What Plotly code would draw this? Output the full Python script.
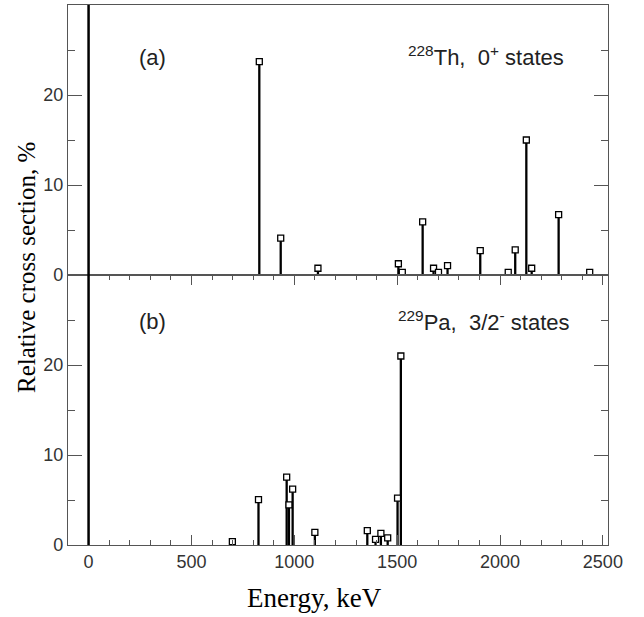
import plotly.graph_objects as go
from plotly.subplots import make_subplots

# ---- data ----
th_energy = [830, 934, 1115, 1506, 1525, 1624, 1677, 1701, 1745, 1904, 2040, 2074, 2128, 2154, 2285, 2436]
th_cs = [23.7, 4.1, 0.75, 1.25, 0.3, 5.9, 0.75, 0.3, 1.05, 2.7, 0.3, 2.8, 15.0, 0.75, 6.7, 0.3]

pa_energy = [699, 826, 963, 974, 992, 1100, 1355, 1395, 1421, 1454, 1502, 1518]
pa_cs = [0.37, 5.05, 7.55, 4.45, 6.2, 1.4, 1.6, 0.63, 1.3, 0.8, 5.2, 21.0]

x_ticks = [0, 500, 1000, 1500, 2000, 2500]
y_ticks = [0, 10, 20]
y_minor = [5, 15, 25]

W, H = 644, 617
L, R, T, B = 68, 36, 5, 72

fig = make_subplots(rows=2, cols=1, shared_xaxes=False, vertical_spacing=0)


def stems(xs, ys):
    sx, sy = [], []
    for x, y in zip(xs, ys):
        sx += [x, x, None]
        sy += [0, y, None]
    return sx, sy


for row, (xs, ys) in enumerate([(th_energy, th_cs), (pa_energy, pa_cs)], start=1):
    sx, sy = stems(xs, ys)
    fig.add_trace(go.Scatter(x=sx, y=sy, mode="lines",
                             line=dict(color="black", width=2.3),
                             showlegend=False, hoverinfo="skip"), row=row, col=1)
    fig.add_trace(go.Scatter(x=xs, y=ys, mode="markers",
                             marker=dict(symbol="square", size=6, color="white",
                                         line=dict(color="black", width=1.3)),
                             showlegend=False), row=row, col=1)
    fig.add_vline(x=0, line=dict(color="black", width=2.5), row=row, col=1)

frame = dict(showline=True, linecolor="#555", linewidth=1.3,
             showgrid=False, zeroline=False)
tickfont = dict(family="Liberation Sans, Arial", size=18, color="#333")

fig.update_xaxes(range=[-100, 2525], **frame)
fig.update_xaxes(showticklabels=False, ticks="", mirror=True, row=1, col=1)
fig.update_xaxes(ticks="inside", tickvals=x_ticks, ticklen=10, tickwidth=1.3,
                 tickcolor="#555", mirror="ticks", tickfont=tickfont,
                 minor=dict(ticks="inside", dtick=100, tick0=0, ticklen=5,
                            tickwidth=1.2, tickcolor="#555"),
                 row=2, col=1)
fig.update_yaxes(range=[0, 30], tickvals=y_ticks, ticks="inside", ticklen=14,
                 tickwidth=1.3, tickcolor="#555", mirror="ticks", tickfont=tickfont,
                 minor=dict(ticks="inside", tickvals=y_minor, ticklen=7,
                            tickwidth=1.2, tickcolor="#555"),
                 **frame)
fig.update_yaxes(domain=[0.5, 1.0], row=1, col=1)
fig.update_yaxes(domain=[0.0, 0.5], row=2, col=1)


def px(x):
    return (x - L) / (W - L - R)


def py(y):
    return (H - B - y) / (H - T - B)


lab = dict(family="Liberation Sans, Arial", size=22, color="#222")
ann = [
    dict(text="(a)", x=px(137), y=py(57.5), xanchor="left", yanchor="middle", font=lab),
    dict(text="(b)", x=px(137), y=py(321), xanchor="left", yanchor="middle", font=lab),
    dict(text="<sup>228</sup>Th,  0<sup>+</sup> states", x=px(566), y=py(56),
         xanchor="right", yanchor="middle", font=lab),
    dict(text="<sup>229</sup>Pa,  3/2<sup>-</sup> states", x=px(571), y=py(321),
         xanchor="right", yanchor="middle", font=lab),
    dict(text="Energy, keV", x=px(314), y=py(598), xanchor="center", yanchor="middle",
         font=dict(family="Liberation Serif, Times New Roman", size=27, color="black")),
    dict(text="Relative cross section, %", x=px(26.5), y=py(267.5), xanchor="center",
         yanchor="middle", textangle=-90,
         font=dict(family="Liberation Serif, Times New Roman", size=25, color="black")),
]
for a in ann:
    a.update(xref="paper", yref="paper", showarrow=False)
fig.update_layout(annotations=ann, width=W, height=H,
                  margin=dict(l=L, r=R, t=T, b=B),
                  plot_bgcolor="white", paper_bgcolor="white")

fig.write_html("out.html", config={"displayModeBar": False},
               post_script="document.body.style.margin='0';document.body.style.padding='0';")
